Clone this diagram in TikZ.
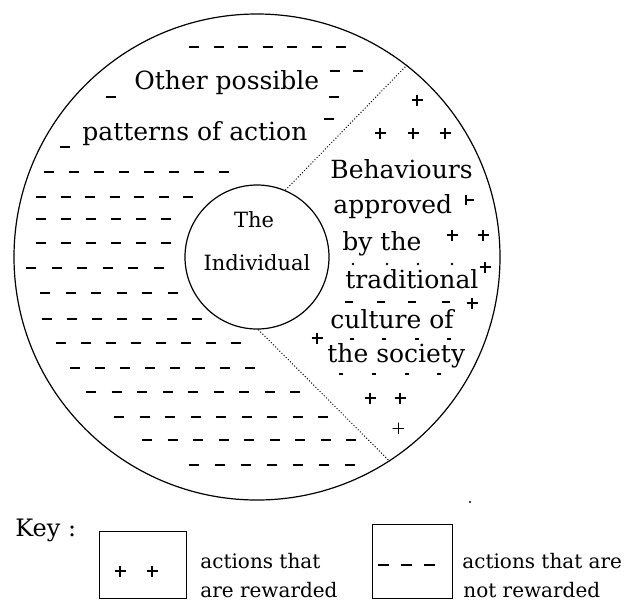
\documentclass[tikz,border=0pt]{standalone}
\usepackage{fontspec}
\setmainfont{DejaVu Serif}
\usepackage{tikz}

% one row of short dashes: y, first x, count, step
\newcommand{\dashrow}[4]{%
  \foreach \k in {1,...,#3}
    \draw[dm] ({#2+(\k-1)*#4},#1) -- ++(10,0);}
% a small plus sign at (x,y)
\newcommand{\plusmark}[3][pm]{%
  \draw[#1] ({#2-5.5},#3) -- ({#2+5.5},#3) (#2,{#3-5.5}) -- (#2,{#3+5.5});}

\begin{document}
\begin{tikzpicture}[x=0.5pt, y=-0.5pt,
  ring/.style={circle, draw, line width=0.6pt, inner sep=0pt},
  divider/.style={densely dotted, line width=0.5pt},
  lbl/.style={font=\fontsize{12.5}{15}\selectfont, inner sep=0pt, anchor=base west},
  innerlbl/.style={font=\fontsize{10.5}{13}\selectfont, inner sep=0pt, anchor=base},
  keytext/.style={font=\fontsize{10}{12}\selectfont, inner sep=0pt, anchor=base west},
  keybox/.style={draw, line width=0.5pt, inner sep=0pt},
  dm/.style={line width=0.9pt},
  pm/.style={line width=1.3pt}]
  \useasboundingbox (0,0) rectangle (627,601);

  % society and the individual
  \node[ring, minimum size=243pt] (society) at (257,257) {};
  \node[ring, minimum size=72pt] (indiv) at (257,257) {};
  \draw[divider] (indiv.67) -- (society.52);
  \draw[divider] (indiv.-89) -- (society.-57);

  \node[innerlbl] (the) at (254,227) {The};
  \node[innerlbl] (individual) at (257,270) {Individual};

  % not rewarded actions
  \foreach \y/\x/\n/\s in {47/189/7/24.5, 71/330/2/23, 172/44/8/25,
      197/36/7/24.5, 219/36/6/25, 243/36/6/25, 268/26/6/25.5,
      293/40/6/25.5, 319/42/7/25, 343/56/8/25, 368/70/8/25,
      392/86/9/25.5, 417/114/9/25.5, 440/142/9/25.5, 465/189/7/26}
    \dashrow{\y}{\x}{\n}{\s};
  \dashrow{97}{106}{1}{0}
  \dashrow{97}{329}{1}{0}
  \dashrow{119}{324}{1}{0}
  \dashrow{147}{60}{1}{0}

  \node[lbl] (other) at (134,89) {Other possible};
  \node[lbl] (patterns) at (82,140) {patterns of action};

  % rewarded actions
  \foreach \x/\y/\t [count=\i] in {330/178/Behaviours, 333/213/approved,
      342/250/by the, 345/288/traditional, 330/328/culture of, 327/362/the society}
    \node[lbl] (behav\i) at (\x,\y) {\t};

  \foreach \x/\y in {417/100, 380/133, 413/133, 445/133, 452/235, 483/235,
      485/267, 472/303, 317/338, 370/398, 400/398}
    \plusmark{\x}{\y}
  \plusmark[line width=0.5pt]{398}{428}
  \draw[pm] (466,195) -- (466,205) (466,200) -- (474,200);

  \foreach \x in {353,387,418,452} \fill (\x,264) circle (0.7pt);
  \foreach \x in {345,377,408,442} \draw[dm] (\x,302) -- ++(8,0);
  \foreach \x in {350,382,415,447} \draw[line width=0.6pt] (\x,339) -- ++(4,0);
  \foreach \x in {339,372,405,437} \draw[line width=0.6pt] (\x,374) -- ++(4,0);
  \fill (470,502) circle (0.6pt);

  % key
  \node[lbl, font=\fontsize{12}{14}\selectfont] (key) at (15,536) {Key :};
  \node[keybox, minimum width=43.5pt, minimum height=33.5pt] (plusbox) at (142.5,564.5) {};
  \node[keybox, minimum width=40pt, minimum height=37pt] (dashbox) at (412,561) {};
  \plusmark{120}{571}
  \plusmark{152}{571}
  \foreach \x in {378,401,424} \draw[dm] (\x,565) -- ++(11,0);
  \node[keytext] (rew1) at (200,568) {actions that};
  \node[keytext] (rew2) at (200,597) {are rewarded};
  \node[keytext] (nrew1) at (462,568) {actions that are};
  \node[keytext] (nrew2) at (463,597) {not rewarded};
\end{tikzpicture}
\end{document}
